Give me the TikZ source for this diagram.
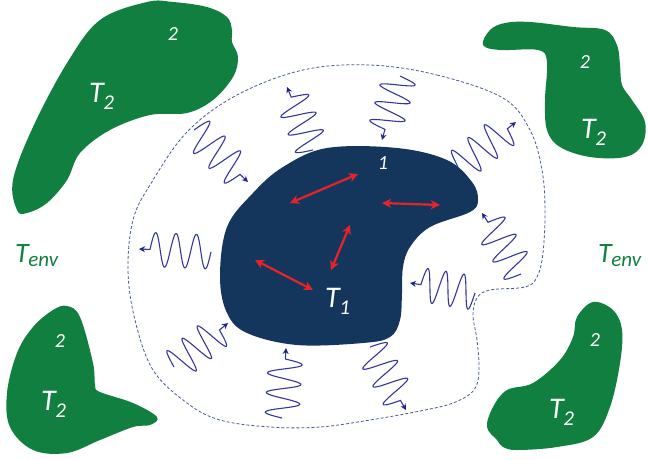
\documentclass[tikz,border=0pt]{standalone}
\usepackage{fontspec}
\setmainfont{Carlito}
\usetikzlibrary{arrows.meta,calc}
\definecolor{greenc}{RGB}{16,127,63}
\definecolor{navyc}{RGB}{21,54,92}
\definecolor{redc}{RGB}{232,35,40}
\definecolor{wavec}{RGB}{52,54,160}
\definecolor{tipc}{RGB}{30,40,130}
\definecolor{dashc}{RGB}{70,90,150}
\newcommand{\Tsub}[4]{{\fontsize{#1}{#1}\selectfont T}\kern-0.5pt\raisebox{#3}{\fontsize{#2}{#2}\selectfont #4}}
\newcommand{\TT}[1]{\Tsub{30}{21}{-7pt}{#1}}
\newcommand{\wavearrow}[2]{%
  \draw[wave] let \p1=($(#2)-(#1)$), \n1={atan2(\y1,\x1)}, \n2={veclen(\x1,\y1)} in
    (#1) {[shift={(#1)}, rotate=\n1]
    plot[domain=0:3, samples=120, smooth] ({\x*(\n2-11)/3}, {-17*sin(\x*360)}) -- (\n2,0)};}
\begin{document}
\begin{tikzpicture}[x=1pt,y=-1pt,
  blob/.style={fill=greenc},
  body/.style={fill=navyc},
  lbl/.style={inner sep=0pt, text=white, font=\itshape},
  envlbl/.style={inner sep=0pt, text=greenc, font=\itshape},
  num/.style={inner sep=0pt, text=white, font=\itshape\fontsize{20}{20}\selectfont},
  wave/.style={draw=wavec, line width=1.1pt,
    -{Stealth[length=6pt,width=6pt,color=tipc]}},
  heat/.style={draw=redc, line width=2.2pt,
    {Stealth[length=9pt,width=9pt,inset=2.5pt]}-{Stealth[length=9pt,width=9pt,inset=2.5pt]}},
  bound/.style={draw=dashc, line width=0.8pt, dash pattern=on 3pt off 2pt}
]
\useasboundingbox (0,0) rectangle (648,459);

% green blobs (reservoir 2)
\fill[blob] plot[smooth cycle, tension=0.6] coordinates {
 (147,2) (173,2) (207,7) (227,17) (232,30) (232,42) (238,57) (233,77) (213,100)
 (187,113) (150,115) (110,130) (80,153) (67,180) (47,203) (27,213) (17,210)
 (13,180) (33,127) (67,63) (100,20)};
\fill[blob] plot[smooth cycle, tension=0.6] coordinates {
 (483,45) (490,30) (505,23) (530,22) (573,27) (605,30) (617,45) (620,65) (622,85)
 (632,100) (645,122) (642,145) (625,157) (590,157) (560,147) (547,130) (545,100)
 (547,62) (538,50) (500,50)};
\fill[blob] plot[smooth cycle, tension=0.6] coordinates {
 (67,306) (80,317) (93,363) (95,385) (100,392) (133,403) (157,417) (150,425)
 (133,427) (100,440) (67,453) (33,450) (10,427) (7,393) (17,353) (33,327) (53,310)};
\fill[blob] plot[smooth cycle, tension=0.6] coordinates {
 (593,302) (613,310) (622,330) (620,363) (610,407) (593,437) (557,447) (517,450)
 (503,447) (497,440) (487,427) (493,407) (507,390) (533,383) (560,360) (573,337) (577,317)};

% boundary of system 1
\draw[bound] plot[smooth cycle, tension=0.6] coordinates {
 (370,65) (437,75) (503,98) (530,130) (542,170) (545,210) (543,253) (537,277)
 (525,287) (490,290) (477,298) (473,315) (477,340) (479,370) (474,390) (453,403)
 (420,411) (370,420) (320,427) (270,427) (220,420) (187,403) (153,370) (135,320)
 (128,270) (133,220) (150,185) (187,132) (237,95) (303,70)};

% body 1
\fill[body] plot[smooth cycle, tension=0.6] coordinates {
 (327,148) (397,148) (447,160) (472,182) (478,200) (470,212) (430,227) (410,247)
 (403,267) (402,293) (400,320) (390,337) (363,343) (297,345) (247,333) (227,313)
 (220,277) (227,227) (253,193) (283,167)};

% radiation waves
\coordinate (w1s) at (313,150); \coordinate (w1e) at (287,87);
\coordinate (w2s) at (400,76);  \coordinate (w2e) at (382,140);
\coordinate (w3s) at (458,167); \coordinate (w3e) at (516,122);
\coordinate (w4s) at (194,130); \coordinate (w4e) at (248,182);
\coordinate (w5s) at (211,252); \coordinate (w5e) at (139,249);
\coordinate (w6s) at (521,274); \coordinate (w6e) at (482,213);
\coordinate (w7s) at (475,293); \coordinate (w7e) at (410,283);
\coordinate (w8s) at (174,367); \coordinate (w8e) at (228,323);
\coordinate (w9s) at (282,418); \coordinate (w9e) at (286,348);
\coordinate (w10s) at (370,347); \coordinate (w10e) at (406,410);
\foreach \i in {1,...,10} {\wavearrow{w\i s}{w\i e}}

% heat exchange arrows inside body
\coordinate (a1) at (290,203); \coordinate (b1) at (358,174);
\coordinate (a2) at (382,203); \coordinate (b2) at (440,205);
\coordinate (a3) at (350,225); \coordinate (b3) at (331,270);
\coordinate (a4) at (255,260); \coordinate (b4) at (313,290);
\foreach \i in {1,...,4} \draw[heat] (a\i) -- (b\i);

% labels
\node[num] (one) at (383,163) {1};
\node[lbl, anchor=base west] (t1) at (325,307) {\TT{1}};
\node[num] (n2a) at (173,34) {2};
\node[lbl, anchor=base west] (t2a) at (89,102) {\TT{2}};
\node[num] (n2b) at (585,62) {2};
\node[lbl, anchor=base west] (t2b) at (581,138) {\TT{2}};
\node[num] (n2c) at (60,341) {2};
\node[lbl, anchor=base west] (t2c) at (41,410) {\TT{2}};
\node[num] (n2d) at (595,340) {2};
\node[lbl, anchor=base west] (t2d) at (549,418) {\TT{2}};
\node[envlbl, anchor=base west] (envl) at (15,262) {\Tsub{28}{21}{-4pt}{env}};
\node[envlbl, anchor=base west] (envr) at (598,262) {\Tsub{28}{21}{-4pt}{env}};
\end{tikzpicture}
\end{document}
